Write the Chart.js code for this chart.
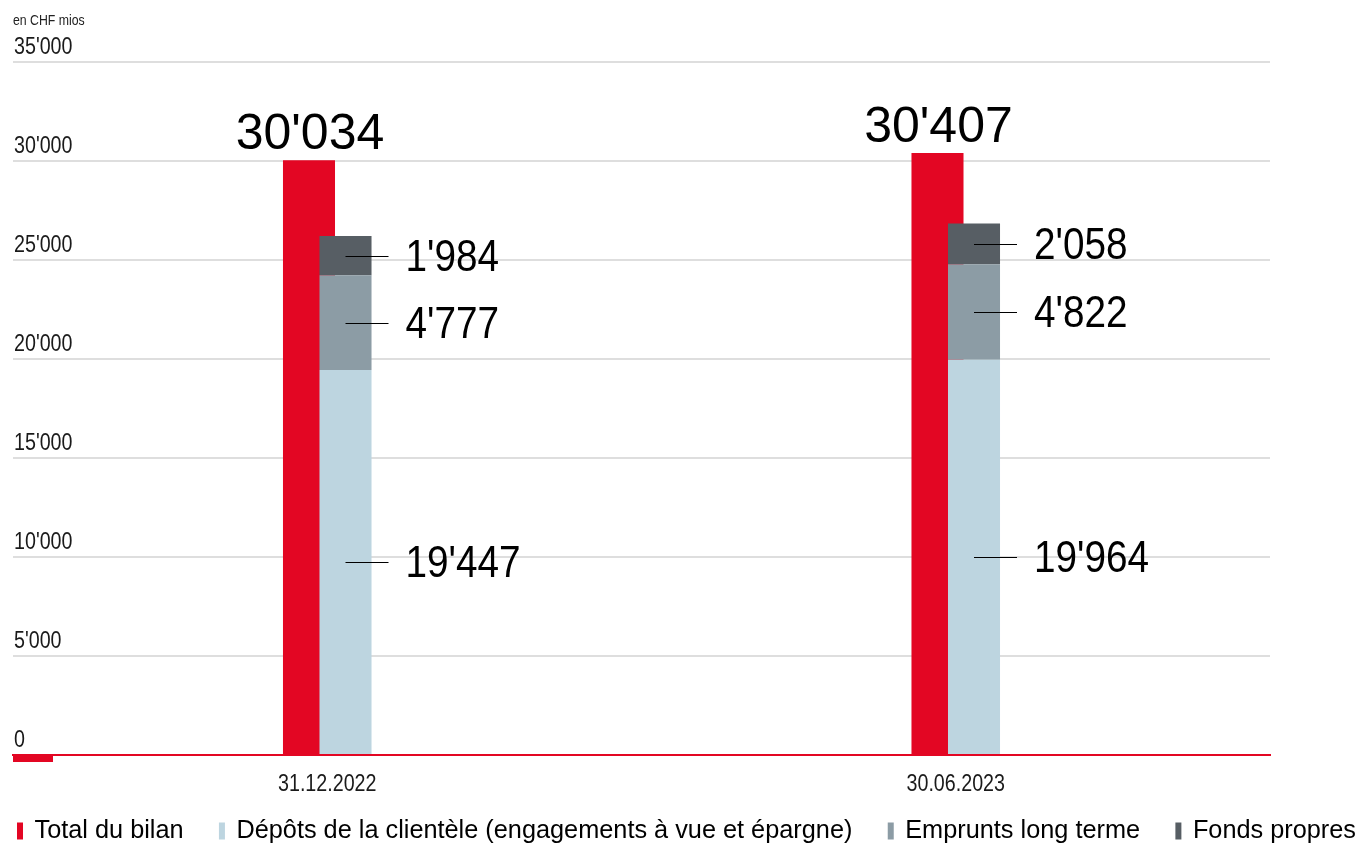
<!DOCTYPE html>
<html>
<head>
<meta charset="utf-8">
<script src="https://cdn.jsdelivr.net/npm/chart.js@4.4.1/dist/chart.umd.min.js"></script>
<style>
  html, body { margin: 0; padding: 0; background: #ffffff; }
  #wrap { width: 1359px; height: 845px; }
</style>
</head>
<body>
<div id="wrap"><canvas id="c" width="1359" height="845"></canvas></div>
<script>
// ---- data ----
const categories = ['31.12.2022', '30.06.2023'];
const totalBilan = [30034, 30407];
const depotsClientele = [19447, 19964];
const empruntsLongTerme = [4777, 4822];
const fondsPropres = [1984, 2058];
const seriesNames = [
  'Total du bilan',
  'Dépôts de la clientèle (engagements à vue et épargne)',
  'Emprunts long terme',
  'Fonds propres'
];
const yMin = 0, yMax = 35000, yStep = 5000;
const unitLabel = 'en CHF mios';

// ---- styles ----
const RED = '#E30623';
const LIGHT = '#BDD5E0';
const MID = '#8C9CA5';
const DARK = '#575E64';
const SANS = '"Liberation Sans", Arial, sans-serif';
const COND = 0.82; // horizontal condensing for axis texts

const fmt = v => String(v).replace(/\B(?=(\d{3})+(?!\d))/g, "'");

function condText(ctx, text, x, y, size, sx, align, baseline, color) {
  ctx.save();
  ctx.translate(x, y);
  ctx.scale(sx, 1);
  ctx.font = size + 'px ' + SANS;
  ctx.fillStyle = color;
  ctx.textAlign = align;
  ctx.textBaseline = baseline;
  ctx.fillText(text, 0, 0);
  ctx.restore();
}

// draw red total bars underneath the stacked bars
const underPlugin = {
  id: 'underPlugin',
  beforeDatasetsDraw(chart) {
    const meta = chart.getDatasetMeta(0);
    if (!meta.hidden) meta.controller.draw();
  },
  beforeDatasetDraw(chart, args) {
    if (args.index === 0) return false;
  }
};

const labelPlugin = {
  id: 'labelPlugin',
  afterDatasetsDraw(chart) {
    const ctx = chart.ctx;
    ctx.save();
    chart.data.datasets.forEach((ds, i) => {
      const meta = chart.getDatasetMeta(i);
      meta.data.forEach((el, j) => {
        const v = ds.data[j];
        if (ds.stack === 'total') {
          ctx.font = '50px ' + SANS;
          ctx.fillStyle = '#000';
          ctx.textAlign = 'center';
          ctx.textBaseline = 'alphabetic';
          ctx.fillText(fmt(v), el.x + 1, el.y - 11);
        } else {
          const my = Math.round((el.y + el.base) / 2) + 0.5;
          ctx.strokeStyle = '#000';
          ctx.lineWidth = 1;
          ctx.beginPath();
          ctx.moveTo(el.x, my);
          ctx.lineTo(el.x + 43, my);
          ctx.stroke();
          condText(ctx, fmt(v), el.x + 60, my + 2, 44, 0.88, 'left', 'middle', '#000');
        }
      });
    });
    // red stub at the base line
    const a = chart.chartArea;
    ctx.fillStyle = RED;
    ctx.fillRect(a.left, a.bottom, 40, 7);
    ctx.restore();
  },
  afterDraw(chart) {
    const ctx = chart.ctx;
    const a = chart.chartArea;
    // unit label
    condText(ctx, unitLabel, a.left, 20.5, 15, COND, 'left', 'middle', '#222');
    // y tick labels
    const ys = chart.scales.y;
    ys.ticks.forEach(t => {
      condText(ctx, fmt(t.value), a.left + 1, ys.getPixelForValue(t.value) - 15, 24, COND, 'left', 'middle', '#1a1a1a');
    });
    // x tick labels
    const xs = chart.scales.x;
    xs.ticks.forEach((t, i) => {
      condText(ctx, categories[i], xs.getPixelForTick(i), a.bottom + 29, 24, COND, 'center', 'middle', '#1a1a1a');
    });
    // legend (spread across the full width)
    const y = a.bottom + 76;
    ctx.save();
    ctx.font = '25.3px ' + SANS;
    const widths = chart.data.datasets.map(ds => 17.5 + ctx.measureText(ds.label).width);
    const startX = 17, endX = chart.width - 3;
    const n = widths.length;
    const gap = (endX - startX - widths.reduce((s, w) => s + w, 0)) / (n - 1);
    let x = startX;
    ctx.textBaseline = 'middle';
    ctx.textAlign = 'left';
    chart.data.datasets.forEach((ds, i) => {
      ctx.fillStyle = ds.backgroundColor;
      ctx.fillRect(x, y - 8.5, 6, 17);
      ctx.fillStyle = '#000';
      ctx.fillText(ds.label, x + 17.5, y);
      x += widths[i] + gap;
    });
    ctx.restore();
  }
};

const common = { categoryPercentage: 0.1162, barPercentage: 1.425, borderWidth: 0 };

new Chart(document.getElementById('c'), {
  type: 'bar',
  data: {
    labels: categories,
    datasets: [
      Object.assign({ label: seriesNames[0], data: totalBilan, backgroundColor: RED, stack: 'total' }, common),
      Object.assign({ label: seriesNames[1], data: depotsClientele, backgroundColor: LIGHT, stack: 'parts' }, common),
      Object.assign({ label: seriesNames[2], data: empruntsLongTerme, backgroundColor: MID, stack: 'parts' }, common),
      Object.assign({ label: seriesNames[3], data: fondsPropres, backgroundColor: DARK, stack: 'parts' }, common)
    ]
  },
  options: {
    responsive: false,
    animation: false,
    events: [],
    layout: { padding: { left: 13, right: 89, top: 62, bottom: 0 } },
    plugins: {
      legend: { display: false },
      tooltip: { enabled: false },
      title: { display: false }
    },
    scales: {
      x: {
        stacked: true,
        z: 1,
        grid: { display: false },
        border: { display: true, color: RED, width: 2 },
        ticks: { display: false },
        afterFit: s => { s.height = 90; }
      },
      y: {
        stacked: true,
        min: yMin,
        max: yMax,
        grid: {
          drawTicks: false,
          color: ctx => (ctx.tick && ctx.tick.value === 0) ? RED : '#dedede',
          lineWidth: 2
        },
        border: { display: false },
        ticks: { display: false, stepSize: yStep },
        afterFit: s => { s.width = 0; }
      }
    }
  },
  plugins: [underPlugin, labelPlugin]
});
</script>
</body>
</html>
